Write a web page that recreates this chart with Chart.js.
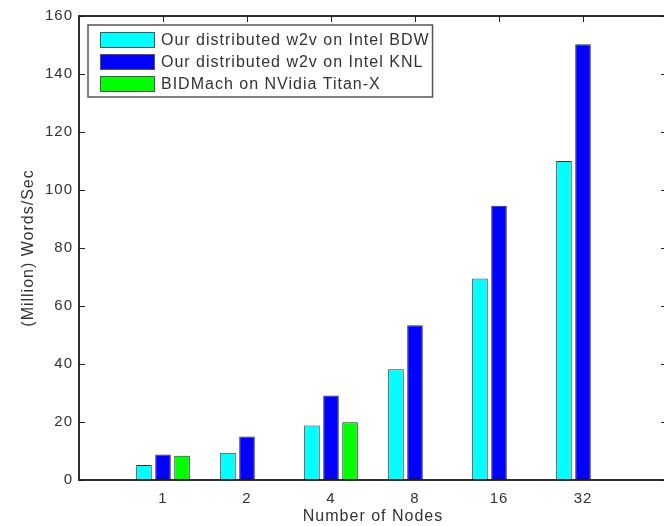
<!DOCTYPE html>
<html>
<head>
<meta charset="utf-8">
<script src="https://cdn.jsdelivr.net/npm/chart.js@4/dist/chart.umd.min.js"></script>
<style>
html,body{margin:0;padding:0;overflow:hidden;background:#fff;}
#wrap{width:680px;height:526px;}
</style>
</head>
<body>
<div id="wrap"><canvas id="c" width="680" height="526"></canvas></div>
<script>
// ---- data ----
const categories = ['1', '2', '4', '8', '16', '32'];
const seriesNames = [
  'Our distributed w2v on Intel BDW',
  'Our distributed w2v on Intel KNL',
  'BIDMach on NVidia Titan-X'
];
const bdwValues   = [5.2, 9.4, 18.8, 38.2, 69.5, 110.0];
const knlValues   = [8.8, 15.0, 29.1, 53.4, 94.6, 150.3];
const titanValues = [8.4, null, 19.9, null, null, null];
const yTickValues = [0, 20, 40, 60, 80, 100, 120, 140, 160];
const xTitle = 'Number of Nodes';
const yTitle = '(Million) Words/Sec';

const seriesColors = ['#00FFFF', '#0000FF', '#00FF00'];
const TEXT = '#333';
const FONT = "'Liberation Sans', Arial, Helvetica, sans-serif";

// pad with an empty slot at each end so the axis spans 0..7 like the original
const pad = arr => [null, ...arr, null];
const labels = ['', ...categories, ''];

const canvas = document.getElementById('c');
const ctx0 = canvas.getContext('2d');
ctx0.letterSpacing = '1px';

const spacingPlugin = {
  id: 'spacing',
  beforeUpdate(chart) { chart.ctx.letterSpacing = '1px'; },
  beforeDraw(chart) { chart.ctx.letterSpacing = '1px'; }
};

const framePlugin = {
  id: 'frame',
  afterDatasetsDraw(chart) {
    const { ctx, chartArea: a, scales: { x, y } } = chart;
    ctx.save();
    ctx.strokeStyle = '#222';
    ctx.lineWidth = 1;
    ctx.beginPath();
    y.ticks.forEach(t => {
      const py = Math.round(y.getPixelForValue(t.value)) + 0.5;
      ctx.moveTo(a.left, py); ctx.lineTo(a.left + 6, py);
      ctx.moveTo(a.right, py); ctx.lineTo(a.right - 6, py);
    });
    x.ticks.forEach((t, i) => {
      if (!labels[i]) return;
      const px = Math.round(x.getPixelForTick(i)) + 0.5;
      ctx.moveTo(px, a.top); ctx.lineTo(px, a.top + 6);
      ctx.moveTo(px, a.bottom); ctx.lineTo(px, a.bottom - 6);
    });
    ctx.stroke();
    ctx.lineWidth = 1.8;
    ctx.strokeStyle = '#1a1a1a';
    ctx.strokeRect(a.left, a.top, a.right - a.left, a.bottom - a.top);
    ctx.restore();
  }
};

const legendPlugin = {
  id: 'boxLegend',
  afterDraw(chart) {
    const { ctx, chartArea: a } = chart;
    const ds = chart.data.datasets;
    ctx.save();
    ctx.letterSpacing = '1px';
    ctx.font = '16px ' + FONT;
    const boxX = a.left + 9, boxY = a.top + 9;
    const patchX = boxX + 12, patchW = 55, patchH = 16;
    const textX = patchX + patchW + 6;
    const rowH = 22, firstRow = 15;
    let maxW = 0;
    ds.forEach(d => { maxW = Math.max(maxW, ctx.measureText(d.label).width); });
    const boxW = textX - boxX + maxW + 3;
    const boxH = firstRow + rowH * (ds.length - 1) + 13;
    ctx.fillStyle = '#fff';
    ctx.fillRect(boxX, boxY, boxW, boxH);
    ctx.strokeStyle = '#555';
    ctx.lineWidth = 1.5;
    ctx.strokeRect(boxX, boxY, boxW, boxH);
    ds.forEach((d, i) => {
      const cy = boxY + firstRow + rowH * i;
      ctx.fillStyle = d.backgroundColor;
      ctx.fillRect(patchX, cy - patchH / 2, patchW, patchH);
      ctx.strokeStyle = '#555';
      ctx.lineWidth = 1;
      ctx.strokeRect(patchX + 0.5, cy - patchH / 2 + 0.5, patchW - 1, patchH - 1);
      ctx.fillStyle = TEXT;
      ctx.textBaseline = 'middle';
      ctx.textAlign = 'left';
      ctx.fillText(d.label, textX, cy + 1);
    });
    ctx.restore();
  }
};

const values = [bdwValues, knlValues, titanValues];

new Chart(canvas, {
  type: 'bar',
  data: {
    labels: labels,
    datasets: seriesNames.map((name, i) => ({
      label: name,
      data: pad(values[i]),
      backgroundColor: seriesColors[i],
      borderColor: '#333',
      borderWidth: 1,
      categoryPercentage: 0.68,
      barPercentage: 0.82
    }))
  },
  options: {
    responsive: false,
    animation: false,
    devicePixelRatio: 1,
    layout: { padding: { left: 12, top: 16, right: 13, bottom: 0 } },
    plugins: {
      legend: { display: false },
      tooltip: { enabled: false }
    },
    scales: {
      x: {
        type: 'category',
        offset: false,
        grid: { display: false, drawTicks: false },
        border: { display: false },
        ticks: {
          autoSkip: false,
          maxRotation: 0,
          padding: 10,
          color: TEXT,
          font: { family: FONT, size: 15 }
        },
        title: {
          display: true,
          text: xTitle,
          color: TEXT,
          font: { family: FONT, size: 16, lineHeight: 1.0 },
          padding: { top: 0, bottom: 1 }
        },
        afterFit(s) { s.height = 46; }
      },
      y: {
        min: 0,
        max: 160,
        afterBuildTicks(s) { s.ticks = yTickValues.map(v => ({ value: v })); },
        grid: { display: false, drawTicks: false },
        border: { display: false },
        ticks: {
          padding: 6,
          color: TEXT,
          font: { family: FONT, size: 15 }
        },
        title: {
          display: true,
          text: yTitle,
          color: TEXT,
          font: { family: FONT, size: 16, lineHeight: 1.2 },
          padding: { top: 7, bottom: 0 }
        },
        afterFit(s) { s.width = 67; }
      }
    }
  },
  plugins: [spacingPlugin, framePlugin, legendPlugin]
});
</script>
</body>
</html>
